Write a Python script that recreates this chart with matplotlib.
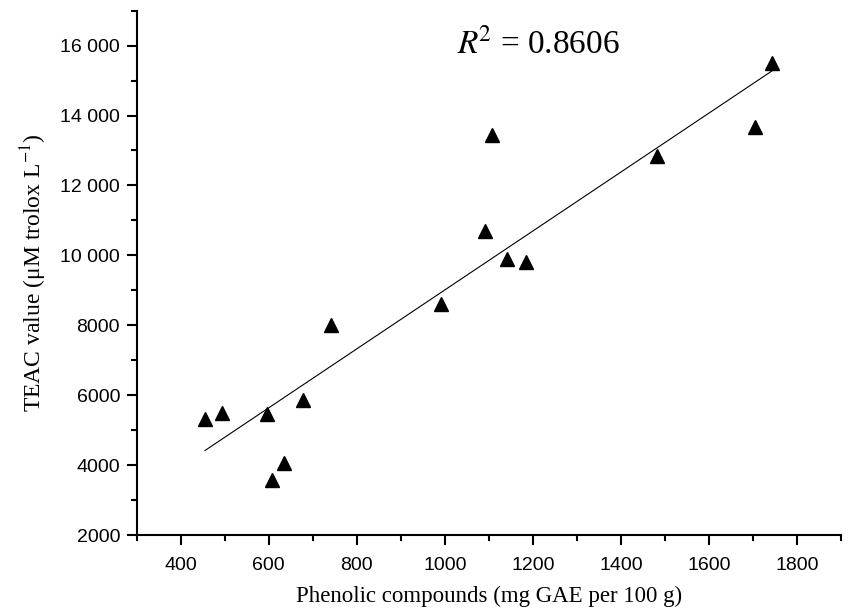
import matplotlib

matplotlib.use("Agg")
import matplotlib.pyplot as plt
import numpy as np
from matplotlib.ticker import FuncFormatter, MultipleLocator

# values
phenolic = [455, 494, 595, 677, 635, 607, 742, 991, 1092, 1141, 1184, 1107, 1482, 1705, 1743]
teac = [5306, 5476, 5449, 5857, 4067, 3562, 8000, 8620, 10695, 9905, 9810, 13457, 12829, 13686, 15494]
r2_label = "0.8606"

plt.rcParams["mathtext.fontset"] = "stix"

fig = plt.figure(figsize=(8.49, 6.09), dpi=100)
ax = fig.add_axes([0.161, 0.1215, 0.8296, 0.861])

ax.plot(phenolic, teac, ls="none", marker="^", ms=10.5, color="black")

# least-squares trend line over the data range
slope, icpt = np.polyfit(phenolic, teac, 1)
xs = np.array([min(phenolic), max(phenolic)])
ax.plot(xs, slope * xs + icpt, color="black", lw=0.8)

ax.text(0.455, 0.905, r"$\mathit{R}^{\!2}$ = " + r2_label, transform=ax.transAxes,
        fontsize=24, family="Liberation Serif", ha="left", va="bottom")

ax.set_xlim(300, 1900)
ax.set_ylim(2000, 17000)
ax.xaxis.set_major_locator(MultipleLocator(200))
ax.xaxis.set_minor_locator(MultipleLocator(100))
ax.yaxis.set_major_locator(MultipleLocator(2000))
ax.yaxis.set_minor_locator(MultipleLocator(1000))
ax.yaxis.set_major_formatter(FuncFormatter(
    lambda v, _: f"{int(v):,}".replace(",", " ") if v >= 10000 else f"{int(v)}"))

for s in ("top", "right"):
    ax.spines[s].set_visible(False)
for s in ("left", "bottom"):
    ax.spines[s].set_linewidth(1.5)

ax.tick_params(which="major", direction="out", length=7, width=1.5)
ax.tick_params(which="minor", direction="out", length=4, width=1.5)
ax.tick_params(axis="x", which="major", pad=9)
ax.tick_params(axis="y", which="major", pad=5)
for lbl in ax.get_xticklabels() + ax.get_yticklabels():
    lbl.set_family("Liberation Sans")
    lbl.set_fontsize(14)

ax.set_xlabel("Phenolic compounds (mg GAE per 100 g)", family="Liberation Serif",
              fontsize=16.5, labelpad=8)
ax.set_ylabel("TEAC value (\u03bcM trolox L$^{-1}$)", family="Liberation Serif",
              fontsize=17, labelpad=8)

fig.savefig("out.png", dpi=100)
